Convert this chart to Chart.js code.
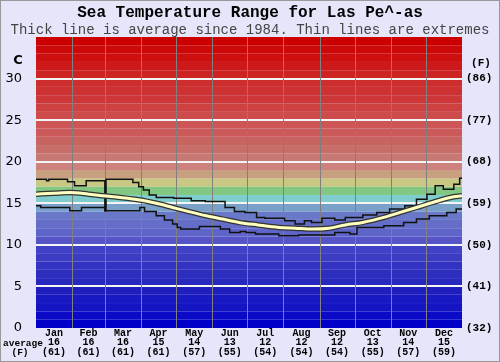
<!DOCTYPE html>
<html>
<head>
<meta charset="utf-8">
<script src="https://cdn.jsdelivr.net/npm/chart.js@4"></script>
<style>
  html, body { margin: 0; padding: 0; background: #e6e6fa; }
  canvas { display: block; }
</style>
</head>
<body>
<canvas id="seaChart" width="500" height="362"></canvas>
<script>
// month labels and monthly averages shown under the axis
const months = ['Jan','Feb','Mar','Apr','May','Jun','Jul','Aug','Sep','Oct','Nov','Dec'];
const monthStart = [0,31,59,90,120,151,181,212,243,273,304,334,365];
const avgC = [16,16,16,15,14,13,12,12,12,13,14,15];
const avgF = [61,61,61,61,57,55,54,54,54,55,57,59];

// right axis labels (F) for 0,5,...,30 C
const fLabels = ['(32)','(41)','(50)','(59)','(68)','(77)','(86)'];

// average line (day of year, C)
const avgDays  = [0,15,29,45,57,72,89,103,117,131,146,160,174,190,208,222,237,251,265,280,298,312,326,340,355,365];
const avgTemps = [16.1,16.2,16.3,16.1,15.9,15.7,15.4,15.0,14.5,14.0,13.5,13.1,12.7,12.4,12.1,12.0,11.9,12.0,12.4,12.7,13.3,13.9,14.5,15.1,15.7,15.9];

// highest recorded (step starts)
const maxDays  = [0,9,11,27,33,43,59,60,83,88,92,97,103,118,133,145,162,170,179,189,196,213,222,230,236,245,256,265,280,292,303,316,326,335,342,349,358,363,365];
const maxTemps = [17.9,17.7,17.9,17.6,17.1,17.7,14.1,17.9,17.5,17.0,16.6,16.0,15.7,15.6,15.3,15.2,14.5,14.0,13.9,13.3,13.2,12.9,12.5,12.9,12.7,13.2,13.0,13.3,13.6,13.9,14.3,14.7,15.5,16.1,17.1,16.7,17.3,18.0,18.0];

// lowest recorded (step starts)
const minDays  = [0,4,29,39,59,89,93,103,110,117,121,124,140,158,166,175,180,188,208,225,256,269,275,298,315,326,337,352,360,365];
const minTemps = [14.7,14.5,14.1,14.5,14.1,14.5,14.0,13.5,13.0,12.5,12.1,11.9,12.2,11.9,11.5,11.6,11.5,11.3,11.1,11.2,11.5,11.3,12.1,12.3,12.7,13.1,13.5,13.9,14.3,14.3];

// one colour per degree band, 0-1 C first
const bandColors = [
  'rgb(0,0,200)','rgb(10,10,200)','rgb(20,20,195)','rgb(25,25,195)','rgb(30,30,190)',
  'rgb(40,40,190)','rgb(45,45,190)','rgb(50,50,195)','rgb(60,60,195)','rgb(65,65,200)',
  'rgb(85,85,200)','rgb(95,100,200)','rgb(100,110,200)','rgb(105,120,200)','rgb(120,160,200)',
  'rgb(128,205,205)','rgb(130,200,130)','rgb(200,200,130)','rgb(200,160,128)','rgb(205,130,125)',
  'rgb(200,120,115)','rgb(200,110,105)','rgb(200,100,95)','rgb(205,90,90)','rgb(205,85,85)',
  'rgb(205,75,75)','rgb(205,65,65)','rgb(205,55,55)','rgb(205,50,50)','rgb(205,45,45)',
  'rgb(205,35,35)','rgb(205,25,25)','rgb(205,15,15)','rgb(205,8,8)','rgb(205,0,0)'
];

const pts = (xs, ys) => xs.map((d, i) => ({x: d, y: ys[i]}));
const mono = "'Liberation Mono', 'Courier New', monospace";

const backdrop = {
  id: 'backdrop',
  beforeDraw(chart) {
    const c = chart.ctx;
    c.save();
    c.fillStyle = '#e6e6fa';
    c.fillRect(0, 0, chart.width, chart.height);
    c.restore();
  },
  beforeDatasetsDraw(chart) {
    const c = chart.ctx, a = chart.chartArea;
    const xs = chart.scales.x, ys = chart.scales.y;
    c.save();
    bandColors.forEach((col, i) => {
      const top = ys.getPixelForValue(i + 1), bot = ys.getPixelForValue(i);
      c.fillStyle = col;
      c.fillRect(a.left, top, a.right - a.left, bot - top);
    });
    c.strokeStyle = '#f4f4f4';
    c.lineWidth = 2;
    for (let v = 5; v <= 30; v += 5) {
      const y = Math.round(ys.getPixelForValue(v));
      c.beginPath(); c.moveTo(a.left, y); c.lineTo(a.right, y); c.stroke();
    }
    c.strokeStyle = '#808080';
    c.lineWidth = 1;
    monthStart.slice(1, 12).forEach(d => {
      const x = Math.round(xs.getPixelForValue(d)) + 0.5;
      c.beginPath(); c.moveTo(x, a.top); c.lineTo(x, a.bottom); c.stroke();
    });
    c.restore();
  },
  afterDraw(chart) {
    const c = chart.ctx;
    c.save();
    c.fillStyle = '#000';
    c.textAlign = 'center';
    c.textBaseline = 'middle';
    c.font = "bold 13px 'DejaVu Sans', sans-serif";
    c.fillText('C', 18, 61);
    c.font = 'bold 11px ' + mono;
    c.fillText('(F)', 481, 63);
    c.font = 'bold 9.5px ' + mono;
    c.fillText('average', 23, 344);
    c.fillText('(F)', 20, 353);
    c.strokeStyle = '#999';
    c.lineWidth = 1;
    c.strokeRect(0.5, 0.5, chart.width - 1, chart.height - 1);
    c.restore();
  }
};

// datasets are drawn last-to-first, so the average line comes first to sit on top
new Chart(document.getElementById('seaChart').getContext('2d'), {
  type: 'line',
  data: {
    datasets: [
      { data: pts(avgDays, avgTemps), borderColor: '#ffffc0', borderWidth: 3, pointRadius: 0, cubicInterpolationMode: 'monotone' },
      { data: pts(avgDays, avgTemps), borderColor: '#333', borderWidth: 5.5, pointRadius: 0, cubicInterpolationMode: 'monotone' },
      { data: pts(maxDays, maxTemps), borderColor: '#111', borderWidth: 1.5, pointRadius: 0, stepped: 'before' },
      { data: pts(minDays, minTemps), borderColor: '#111', borderWidth: 1.5, pointRadius: 0, stepped: 'before' }
    ]
  },
  options: {
    responsive: false,
    animation: false,
    devicePixelRatio: 1,
    layout: { padding: 0 },
    plugins: {
      legend: { display: false },
      tooltip: { enabled: false },
      title: {
        display: true,
        text: 'Sea Temperature Range for Las Pe^-as',
        color: '#000',
        font: { family: mono, size: 16, weight: 'bold', lineHeight: 1 },
        padding: { top: 5, bottom: 0 }
      },
      subtitle: {
        display: true,
        text: 'Thick line is average since 1984. Thin lines are extremes',
        color: '#444',
        font: { family: mono, size: 14, weight: 'normal', lineHeight: 1 },
        padding: { top: 2, bottom: 0 }
      }
    },
    scales: {
      x: {
        type: 'linear',
        min: 0,
        max: 365,
        grid: { display: false, drawTicks: false },
        border: { display: false },
        afterBuildTicks: s => { s.ticks = months.map((m, i) => ({value: (monthStart[i] + monthStart[i + 1]) / 2})); },
        afterFit: s => { s.height = 34; },
        ticks: {
          autoSkip: false,
          maxRotation: 0,
          padding: 1,
          color: '#000',
          font: { family: mono, size: 10, weight: 'bold', lineHeight: 0.92 },
          callback: (v, i) => [months[i], String(avgC[i]), '(' + avgF[i] + ')']
        }
      },
      y: {
        position: 'left',
        min: 0,
        max: 35,
        grid: { display: false, drawTicks: false },
        border: { display: false },
        afterFit: s => { s.width = 36; },
        ticks: {
          stepSize: 5,
          padding: 14,
          color: '#000',
          font: { family: "'DejaVu Sans', sans-serif", size: 13 },
          callback: v => (v > 30 ? '' : v)
        }
      },
      y2: {
        position: 'right',
        min: 0,
        max: 35,
        grid: { display: false, drawTicks: false },
        border: { display: false },
        afterFit: s => { s.width = 38; },
        ticks: {
          stepSize: 5,
          padding: 4,
          color: '#000',
          font: { family: mono, size: 11, weight: 'bold' },
          callback: v => (v > 30 ? '' : fLabels[v / 5])
        }
      }
    }
  },
  plugins: [backdrop]
});
</script>
</body>
</html>
